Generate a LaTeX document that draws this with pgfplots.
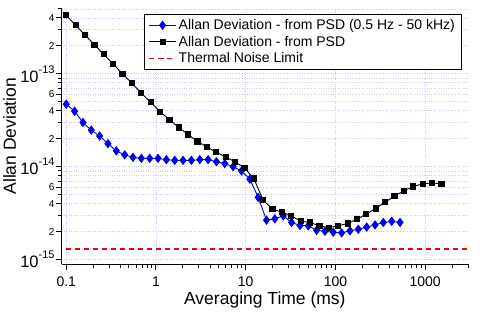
\documentclass[border=0pt]{standalone}
\usepackage{fontspec}
\setmainfont{Liberation Sans}
\usepackage{pgfplots}
\pgfplotsset{compat=1.18}

\definecolor{gridblue}{RGB}{200,200,250}
\definecolor{adevblue}{RGB}{0,0,235}
\definecolor{limitred}{RGB}{240,0,0}

% decade label 10^n and plain mantissa label for the log axis
\newcommand{\dec}[1]{\fontsize{16.5}{16.5}\selectfont 10\raisebox{9pt}{\fontsize{11}{11}\selectfont -#1}}
\newcommand{\man}[1]{\fontsize{10}{10}\selectfont #1}

\begin{document}
\begin{tikzpicture}
\begin{axis}[
  at={(0pt,0pt)}, anchor=south west,
  scale only axis,
  width=406.3pt, height=256.3pt,
  xmode=log, ymode=log,
  xmin=0.089, xmax=3000,
  ymin=8.9e-16, ymax=5.1e-13,
  axis x line*=bottom, axis y line*=left,
  axis line style={line width=1.1pt},
  tick style={line width=1pt, black},
  tick align=outside,
  major tick length=6pt, minor tick length=3.5pt,
  xtick={0.1,1,10,100,1000},
  xticklabels={0.1,1,10,100,1000},
  minor xtick={0.2,0.3,0.4,0.5,0.6,0.7,0.8,0.9,2,3,4,5,6,7,8,9,20,30,40,50,60,70,80,90,200,300,400,500,600,700,800,900,2000,3000},
  xticklabel style={font=\fontsize{14}{14}\selectfont, yshift=-3pt},
  ytick={1e-15,2e-15,4e-15,6e-15,1e-14,2e-14,4e-14,6e-14,1e-13,2e-13,4e-13},
  yticklabels={\dec{15},\man{2},\man{4},\man{6},\dec{14},\man{2},\man{4},\man{6},\dec{13},\man{2},\man{4}},
  minor ytick={3e-15,5e-15,7e-15,8e-15,9e-15,3e-14,5e-14,7e-14,8e-14,9e-14,3e-13,5e-13},
  yticklabel style={inner xsep=1pt},
  xmajorgrids, ymajorgrids, yminorgrids,
  major grid style={gridblue, dotted, line width=0.6pt},
  minor grid style={gridblue, dotted, line width=0.6pt},
  xlabel={Averaging Time (ms)},
  ylabel={Allan Deviation},
  label style={font=\fontsize{17.5}{18}\selectfont},
  xlabel style={at={(axis description cs:0.5,-0.157)}, anchor=base},
  ylabel style={at={(axis description cs:-0.1125,0.5)}, anchor=base, rotate=0},
  legend style={at={(rel axis cs:0.9835,0.9766)}, anchor=north east,
    font=\fontsize{14}{16}\selectfont, draw=black, line width=0.8pt,
    inner xsep=4pt, inner ysep=3pt, row sep=1pt},
  legend cell align=left,
  legend image code/.code={%
    \draw[mark repeat=2,mark phase=2,#1] plot coordinates {(0pt,0pt) (13.5pt,0pt) (27pt,0pt)};},
]
\addplot[color=adevblue, line width=0.9pt, mark=diamond*, mark size=4pt, mark options={solid, fill=adevblue}] coordinates {
(0.1000,4.70e-14) (0.1239,3.95e-14) (0.1535,2.99e-14) (0.1901,2.47e-14)
(0.2355,2.14e-14) (0.2917,1.77e-14) (0.3614,1.48e-14) (0.4477,1.34e-14)
(0.5546,1.26e-14) (0.6871,1.23e-14) (0.8511,1.23e-14) (1.054,1.23e-14)
(1.306,1.19e-14) (1.618,1.17e-14) (2.004,1.17e-14) (2.483,1.17e-14)
(3.076,1.19e-14) (3.811,1.19e-14) (4.721,1.13e-14) (5.848,1.08e-14)
(7.244,1.00e-14) (8.974,9.0e-15) (11.12,7.34e-15) (13.77,4.67e-15)
(17.06,2.66e-15) (21.13,2.75e-15) (26.18,2.96e-15) (32.43,2.51e-15)
(40.18,2.33e-15) (49.77,2.31e-15) (61.66,2.07e-15) (76.38,2.02e-15)
(94.62,1.97e-15) (117.2,1.94e-15) (145.2,2.04e-15) (179.9,2.12e-15)
(222.8,2.24e-15) (276.1,2.36e-15) (342.0,2.51e-15) (423.6,2.58e-15)
(524.8,2.51e-15)
};
\addlegendentry{Allan Deviation - from PSD (0.5 Hz - 50 kHz)}
\addplot[color=black, line width=0.9pt, mark=square*, mark size=2.6pt, mark options={solid, fill=black}] coordinates {
(0.1,4.26e-13) (0.1272,3.33e-13) (0.1618,2.61e-13) (0.2058,2.06e-13)
(0.2618,1.62e-13) (0.3331,1.27e-13) (0.4236,1.00e-13) (0.5389,7.9e-14)
(0.6855,6.2e-14) (0.8720,4.94e-14) (1.109,3.92e-14) (1.411,3.21e-14)
(1.795,2.64e-14) (2.283,2.22e-14) (2.904,1.87e-14) (3.694,1.63e-14)
(4.699,1.43e-14) (5.977,1.27e-14) (7.603,1.13e-14) (9.672,9.7e-15)
(12.30,7.47e-15) (15.65,4.36e-15) (19.91,3.49e-15) (25.32,3.24e-15)
(32.21,2.96e-15) (40.97,2.59e-15) (52.12,2.51e-15) (66.30,2.31e-15)
(84.33,2.20e-15) (107.3,2.31e-15) (136.5,2.45e-15) (173.6,2.72e-15)
(220.8,3.10e-15) (280.9,3.55e-15) (357.3,4.15e-15) (454.5,4.82e-15)
(578.1,5.5e-15) (735.4,6.12e-15) (935.4,6.53e-15) (1190,6.70e-15)
(1514,6.53e-15)
};
\addlegendentry{Allan Deviation - from PSD}
\addplot[color=limitred, line width=1.2pt, dash pattern=on 5pt off 4pt, mark=none] coordinates {
(0.1,1.3e-15) (3000,1.3e-15)
};
\addlegendentry{Thermal Noise Limit}
\end{axis}
\pgfresetboundingbox
\useasboundingbox (-61.7pt,-50.7pt) rectangle (438.3pt,264.3pt);
\end{tikzpicture}
\end{document}
